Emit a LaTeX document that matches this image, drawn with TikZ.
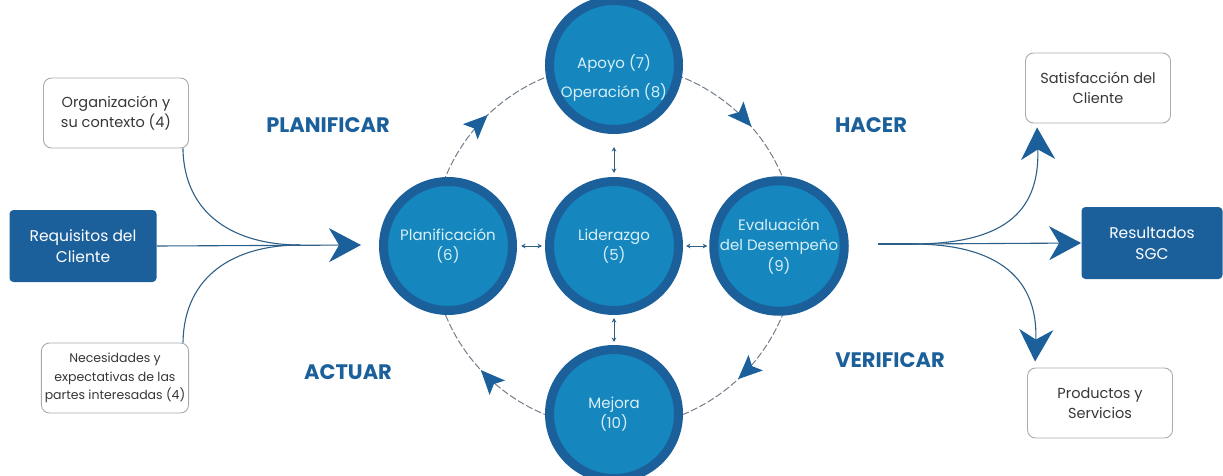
\documentclass[tikz,border=0pt]{standalone}
\usepackage{fontspec}
\setmainfont{Poppins}
\usetikzlibrary{arrows.meta,calc}

\definecolor{ringblue}{RGB}{27,96,155}
\definecolor{coreblue}{RGB}{22,134,190}
\definecolor{paletxt}{RGB}{215,240,248}
\definecolor{boxgray}{RGB}{165,172,178}
\definecolor{linegray}{RGB}{115,125,138}
\definecolor{flowblue}{RGB}{45,95,135}
\definecolor{txtgray}{RGB}{55,55,55}

\tikzset{every picture/.style={line width=0.75pt}}
\tikzset{
  pdcaball/.style={circle, draw=ringblue, line width=9pt, fill=coreblue, minimum size=129pt, inner sep=0pt, text=paletxt, align=center, font=\fontsize{15}{20.5}\selectfont},
  whitebox/.style={draw=boxgray, line width=0.9pt, fill=white, rounded corners=8pt, minimum width=145pt, minimum height=70pt, align=center, text=txtgray, font=\fontsize{14.5}{20.5}\selectfont},
  bluebox/.style={fill=ringblue, rounded corners=4pt, minimum width=147pt, minimum height=72pt, align=center, text=white, font=\fontsize{15.5}{21}\selectfont},
  phase/.style={text=ringblue, font=\fontsize{21}{22}\selectfont\bfseries},
  flow/.style={draw=flowblue, line width=1.1pt},
  bigtip/.style={-{Stealth[length=32pt,width=34pt,inset=10pt,color=ringblue]}},
  cycletip/.style={-{Stealth[length=24pt,width=21pt,inset=5pt,color=ringblue]}, draw=linegray, dash pattern=on 0pt off 300pt},
  linkarrow/.style={{Stealth[length=4.5pt,width=4.5pt]}-{Stealth[length=4.5pt,width=4.5pt]}, draw=flowblue, line width=1pt},
  cyclepath/.style={draw=linegray, line width=1pt, dash pattern=on 7pt off 2.5pt}
}

\begin{document}
\begin{tikzpicture}[x=1pt,y=1pt,yscale=-1,xscale=1]
\useasboundingbox (0,0) rectangle (1223,476);

%Shape: Circle (dashed cycle)
\draw[cyclepath] (614,246) circle (182);

%Shape: Circles
\node[pdcaball] (lider) at (614,246) {Liderazgo\\(5)};
\node[pdcaball] (plan) at (448,246) {Planificación\\(6)};
\node[pdcaball] (eval) at (779,246) {Evaluación\\del Desempeño\\(9)};
\node[pdcaball] (apoyo) at (614,65) {};
\node[pdcaball] (mejora) at (614,414) {Mejora\\(10)};
% Text Node
\node[align=center, text=paletxt, font=\fontsize{15}{29}\selectfont] (apoyotxt) at (614,78) {Apoyo (7)\\Operación (8)};

%Arrows on the cycle
\draw[cycletip] ($(lider.center)+(205:182)$) arc (205:226:182);
\draw[cycletip] ($(lider.center)+(298:182)$) arc (298:319:182);
\draw[cycletip] ($(lider.center)+(26:182)$) arc (26:47:182);
\draw[cycletip] ($(lider.center)+(116:182)$) arc (116:137:182);

%Straight Lines (links to the centre)
\draw[linkarrow] ($(apoyo.south)+(0,13)$) -- ($(lider.north)+(0,-4)$);
\draw[linkarrow] ($(mejora.north)+(0,-3)$) -- ($(lider.south)+(0,3)$);
\draw[linkarrow] ([xshift=4pt]plan.east) -- ([xshift=-3pt]lider.west);
\draw[linkarrow] ([xshift=3pt]lider.east) -- ([xshift=-2pt]eval.west);

%Shape: Boxes (left)
\node[whitebox] (org) at (116,113) {Organización y\\su contexto (4)};
\node[bluebox] (req) at (83,246) {Requisitos del\\Cliente};
\node[whitebox, font=\fontsize{12.5}{18.5}\selectfont] (nec) at (115,378) {Necesidades y\\expectativas de las\\partes interesadas (4)};

%Shape: Boxes (right)
\node[whitebox] (sat) at (1098,88) {Satisfacción del\\Cliente};
\node[bluebox, minimum width=141pt] (res) at (1152,243) {Resultados\\SGC};
\node[whitebox] (prod) at (1100,403) {Productos y\\Servicios};

%Curve Lines (left fan)
\coordinate (lmerge) at (300,245);
\coordinate (ltip) at (361,245);
\draw[flow] ($(org.south east)+(-6,0)$) .. controls (184,215) and (235,245) .. (lmerge);
\draw[flow] ($(nec.north east)+(-6,0)$) .. controls (184,275) and (235,245) .. (lmerge);
\draw[flow,bigtip] (req.east) -- (ltip);

%Curve Lines (right fan)
\coordinate (rstart) at (878,244);
\coordinate (rsplit) at (912,244);
\draw[flow] (rstart) -- (rsplit);
\draw[flow,bigtip] (rsplit) .. controls (1000,244) and (1040,215) .. ($(sat.south west)+(12,4)$);
\draw[flow,bigtip] (rsplit) -- (res.west);
\draw[flow,bigtip] (rsplit) .. controls (1000,244) and (1038,280) .. ($(prod.north west)+(8,-6)$);

% Text Node
\node[phase] (planificar) at (328,125) {PLANIFICAR};
% Text Node
\node[phase] (hacer) at (871,125) {HACER};
% Text Node
\node[phase] (actuar) at (348,372) {ACTUAR};
% Text Node
\node[phase] (verificar) at (890,360) {VERIFICAR};

\end{tikzpicture}
\end{document}
